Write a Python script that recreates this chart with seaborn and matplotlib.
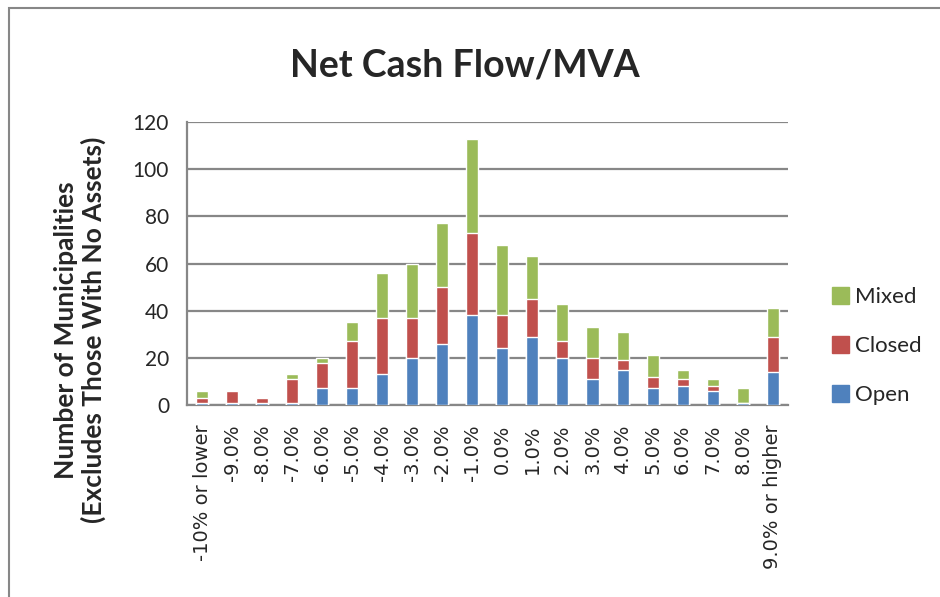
import numpy as np
import pandas as pd
import matplotlib
matplotlib.use("Agg")
import matplotlib.pyplot as plt
import seaborn as sns
from matplotlib.patches import Patch, Rectangle

# data
categories = ["-10% or lower", "-9.0%", "-8.0%", "-7.0%", "-6.0%", "-5.0%", "-4.0%",
              "-3.0%", "-2.0%", "-1.0%", "0.0%", "1.0%", "2.0%", "3.0%", "4.0%",
              "5.0%", "6.0%", "7.0%", "8.0%", "9.0% or higher"]
open_vals = [1, 1, 1, 1, 7, 7, 13, 20, 26, 38, 24, 29, 20, 11, 15, 7, 8, 6, 1, 14]
closed_vals = [2, 5, 2, 10, 11, 20, 24, 17, 24, 35, 14, 16, 7, 9, 4, 5, 3, 2, 0, 15]
mixed_vals = [3, 0, 0, 2, 2, 8, 19, 23, 27, 40, 30, 18, 16, 13, 12, 9, 4, 3, 6, 12]

colors = {"Open": "#4F81BD", "Closed": "#C0504D", "Mixed": "#9BBB59"}

df = pd.DataFrame({"cat": categories, "Open": open_vals,
                   "Closed": closed_vals, "Mixed": mixed_vals})
# cumulative heights so that overlapping bars look stacked
df["c_open"] = df["Open"]
df["c_closed"] = df["Open"] + df["Closed"]
df["c_mixed"] = df["c_closed"] + df["Mixed"]

sns.set_style("white")
plt.rcParams["font.family"] = ["Lato", "DejaVu Sans"]

fig = plt.figure(figsize=(9.4, 5.97), dpi=100)
ax = fig.add_axes([0.199, 0.3216, 0.639, 0.474])

for col, name in [("c_mixed", "Mixed"), ("c_closed", "Closed"), ("c_open", "Open")]:
    sns.barplot(data=df, x="cat", y=col, order=categories, color=colors[name],
                width=0.4, saturation=1, ax=ax, zorder=3)

ax.set_ylim(0, 120)
ax.set_xlim(-0.5, len(categories) - 0.5)
ax.set_yticks(range(0, 121, 20))
ax.yaxis.grid(True, color="#878787", linewidth=1.6, zorder=0)
ax.set_axisbelow(True)

for s in ["top", "right"]:
    ax.spines[s].set_visible(False)
for s in ["left", "bottom"]:
    ax.spines[s].set_color("#878787")
    ax.spines[s].set_linewidth(1.6)

ax.tick_params(axis="y", length=7, width=1.6, color="#878787", labelsize=15, pad=6)
ax.set_xticks(range(len(categories)))
ax.set_xticklabels(categories, rotation=90, fontfamily="DejaVu Sans", fontsize=14)
ax.tick_params(axis="x", which="major", length=0, pad=14)
ax.set_xticks(np.arange(-0.5, len(categories), 1), minor=True)
ax.tick_params(axis="x", which="minor", length=7, width=1.6, color="#878787")

ax.set_xlabel("")
ax.set_ylabel("")
fig.text(0.085, 0.447, "Number of Municipalities\n(Excludes Those With No Assets)",
         rotation=90, ha="center", va="center", fontsize=19, fontweight="bold",
         linespacing=1.15)
fig.text(0.495, 0.89, "Net Cash Flow/MVA", ha="center", va="center",
         fontsize=27, fontweight="bold")

handles = [Patch(color=colors[n], label=n) for n in ["Mixed", "Closed", "Open"]]
fig.legend(handles=handles, loc="center left", bbox_to_anchor=(0.885, 0.42),
           frameon=False, fontsize=16, handlelength=0.75, handleheight=0.75,
           handletextpad=0.3, labelspacing=1.3, borderaxespad=0, borderpad=0)

fig.patches.append(Rectangle((9 / 940, -0.1), 1.2, 1 - 8 / 597 + 0.1,
                             transform=fig.transFigure, fill=False,
                             edgecolor="#878787", linewidth=1.5))

plt.savefig("out.png", dpi=100)
